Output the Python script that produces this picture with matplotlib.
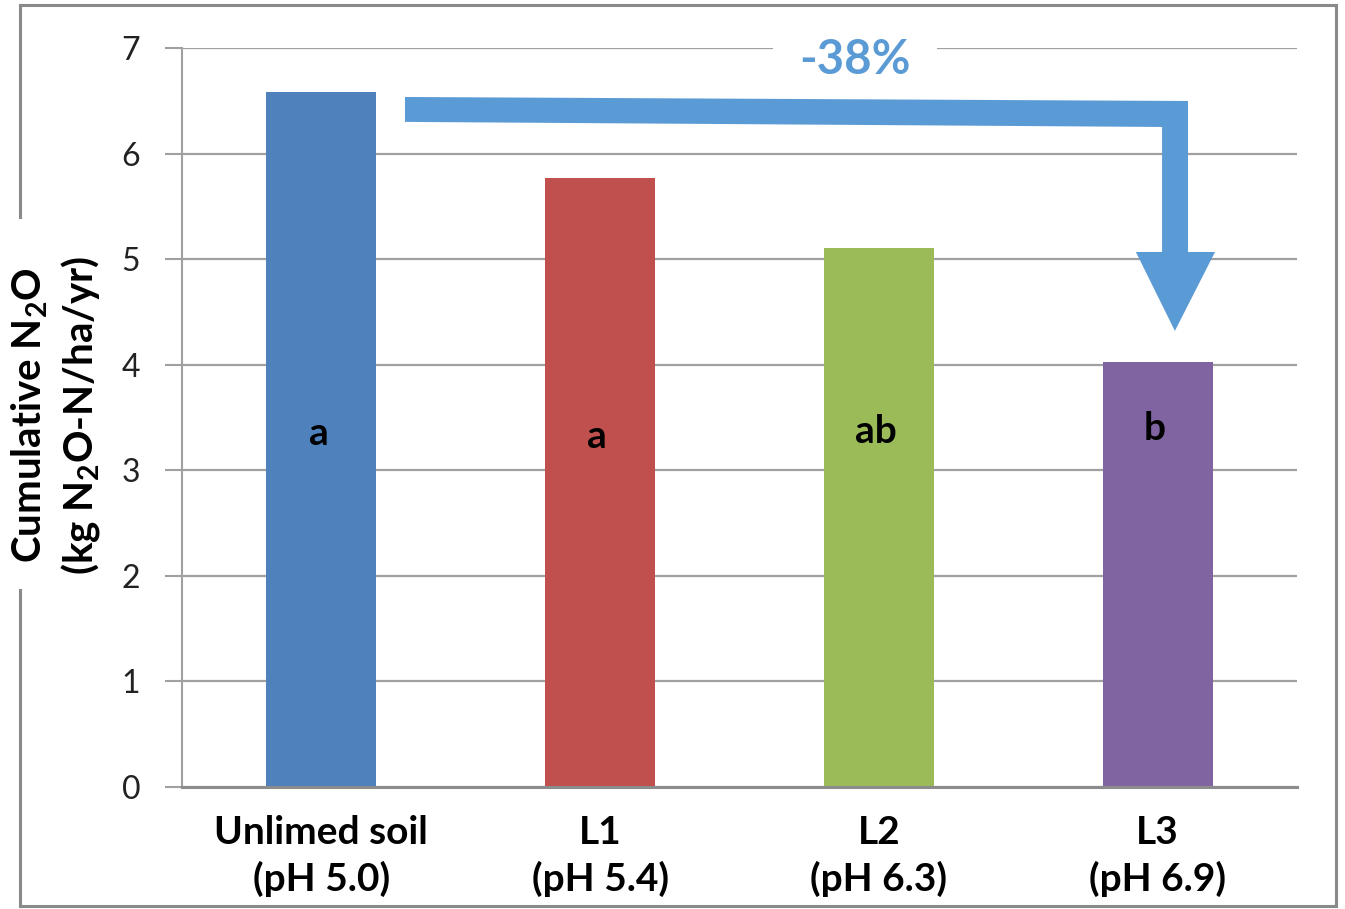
import numpy as np
import matplotlib
matplotlib.use('Agg')
import matplotlib.pyplot as plt
from matplotlib.lines import Line2D
from matplotlib.patches import Polygon

plt.rcParams['font.family'] = ['Lato', 'DejaVu Sans']
plt.rcParams['mathtext.fontset'] = 'custom'
plt.rcParams['mathtext.rm'] = 'Lato:bold'
plt.rcParams['mathtext.bf'] = 'Lato:bold'
plt.rcParams['mathtext.default'] = 'bf'

# data
categories = ['Unlimed soil\n(pH 5.0)', 'L1\n(pH 5.4)', 'L2\n(pH 6.3)', 'L3\n(pH 6.9)']
values = [6.58, 5.77, 5.11, 4.03]
letters = ['a', 'a', 'ab', 'b']
letter_y = [3.35, 3.32, 3.37, 3.40]
colors = ['#4F81BD', '#C0504D', '#9BBB59', '#8064A2']
yticks = [0, 1, 2, 3, 4, 5, 6, 7]
change_label = '-38%'

grid_col = '#A0A0A0'
arrow_col = '#5B9BD5'

fig = plt.figure(figsize=(13.45, 9.09), dpi=100)
ax = fig.add_axes([0.1353, 0.1342, 0.829, 0.813])

x = np.arange(len(categories))
ax.bar(x, values, width=0.395, color=colors, zorder=2)

for xi, lab, ly in zip(x, letters, letter_y):
    ax.text(xi - 0.01, ly, lab, ha='center', va='center', fontsize=28,
            fontweight='bold', color='black', zorder=4)

ax.set_xlim(-0.5, 3.5)
ax.set_ylim(0, 7)
ax.set_yticks(yticks)
ax.set_yticklabels([str(t) for t in yticks], fontsize=23, color='#222222')
ax.set_xticks(x)
ax.set_xticklabels(categories, fontsize=28, fontweight='bold', linespacing=1.35)
ax.tick_params(axis='x', length=0, pad=20)
ax.tick_params(axis='y', length=12, width=1.5, color=grid_col, pad=18)

ax.yaxis.grid(True, color=grid_col, linewidth=1.6, zorder=0)
ax.set_axisbelow(True)
for s in ['top', 'right']:
    ax.spines[s].set_visible(False)
ax.spines['left'].set_color(grid_col)
ax.spines['left'].set_linewidth(1.5)
ax.spines['bottom'].set_color('#8C8C8C')
ax.spines['bottom'].set_linewidth(2.2)

# bent arrow from bar 1 level down to L3
arrow_pts = [(0.30, 6.536), (3.109, 6.498), (3.109, 5.068), (3.206, 5.068),
             (3.062, 4.32), (2.922, 5.068), (3.016, 5.068), (3.016, 6.252),
             (0.30, 6.30)]
ax.add_patch(Polygon(arrow_pts, closed=True, facecolor=arrow_col,
                     edgecolor='none', zorder=3, clip_on=False))

ax.text(1.914, 6.89, change_label, ha='center', va='center', fontsize=34,
        fontweight='bold', color=arrow_col, zorder=2.5, clip_on=False,
        bbox=dict(boxstyle='square,pad=0.55', facecolor='white', edgecolor='none'))

# y label (two lines)
fig.text(0.0225, 0.543, 'Cumulative N$_{2}$O', rotation=90, ha='center',
         va='center', fontsize=29, fontweight='bold')
fig.text(0.0595, 0.543, '(kg N$_{2}$O-N/ha/yr)', rotation=90, ha='center',
         va='center', fontsize=29, fontweight='bold')

# outer border with gap for the label
bc = '#8A8A8A'
lw = 2.2
L, R, T, B = 0.0149, 0.9933, 0.9945, 0.0033
for xs, ys in [([L, R], [T, T]), ([R, R], [T, B]), ([L, R], [B, B]),
               ([L, L], [T, 0.7613]), ([L, L], [0.3509, B])]:
    fig.add_artist(Line2D(xs, ys, transform=fig.transFigure, color=bc, linewidth=lw))

fig.savefig('out.png', dpi=100)
